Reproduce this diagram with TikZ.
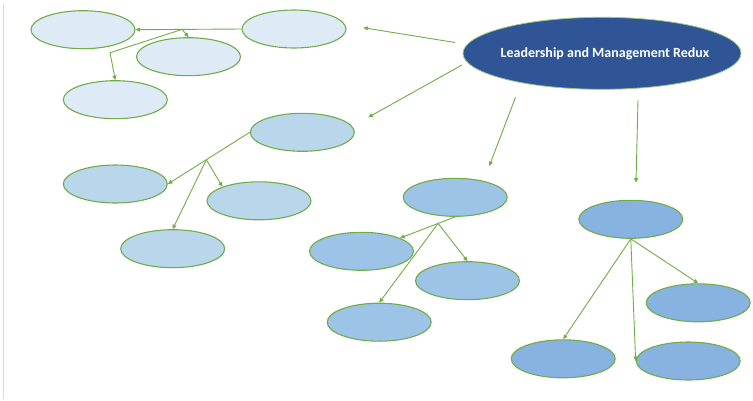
\documentclass[tikz,border=0pt]{standalone}
\usepackage{fontspec}
\setmainfont{Carlito}
\usetikzlibrary{shapes.geometric,arrows.meta,calc}
\definecolor{ogreen}{HTML}{70AD47}
\definecolor{fillA}{HTML}{DEEBF7}
\definecolor{fillB}{HTML}{BAD6EB}
\definecolor{fillC}{HTML}{9DC3E6}
\definecolor{fillD}{HTML}{88B2DF}
\definecolor{mainblue}{HTML}{2F5597}
\definecolor{edgegray}{HTML}{D9D9D9}
\tikzset{
  bubble/.style={ellipse, draw=ogreen, line width=1.1pt, minimum width=104pt, minimum height=38pt, inner sep=0pt},
  mainbubble/.style={ellipse, draw=ogreen!70!white, line width=0.8pt, fill=mainblue, minimum width=278pt, minimum height=72pt, inner sep=0pt, text=white, font=\fontsize{14}{16}\selectfont\bfseries},
  link/.style={draw=ogreen, line width=0.9pt, -{Triangle[length=4.5pt,width=4pt]}},
  plain/.style={draw=ogreen, line width=0.9pt}
}
\begin{document}
\begin{tikzpicture}[x=1pt,y=-1pt]
\useasboundingbox (0,0) rectangle (753,400);
\draw[edgegray, line width=0.8pt] (3.5,4) -- (3.5,399);

% main
\node[mainbubble] (main) at (602,53.3) {\makebox[0pt]{\hspace{6pt}Leadership and Management Redux}};

% group 1
\node[bubble, fill=fillA] (g1) at (294,29) {};
\node[bubble, fill=fillA] (g1a) at (83,29.7) {};
\node[bubble, fill=fillA] (g1b) at (188.5,56.7) {};
\node[bubble, fill=fillA] (g1c) at (115.3,99.7) {};

% group 2
\node[bubble, fill=fillB] (g2) at (302.3,132.3) {};
\node[bubble, fill=fillB] (g2a) at (115.3,184) {};
\node[bubble, fill=fillB] (g2b) at (259,200.8) {};
\node[bubble, fill=fillB] (g2c) at (172.7,248.7) {};

% group 3
\node[bubble, fill=fillC] (g3) at (455.2,197.3) {};
\node[bubble, fill=fillC] (g3a) at (361.5,251.3) {};
\node[bubble, fill=fillC] (g3b) at (467.5,280.7) {};
\node[bubble, fill=fillC] (g3c) at (379.2,322.2) {};

% group 4
\node[bubble, fill=fillD] (g4) at (630.8,219.3) {};
\node[bubble, fill=fillD] (g4a) at (698.2,302.8) {};
\node[bubble, fill=fillD] (g4b) at (563.2,358.8) {};
\node[bubble, fill=fillD] (g4c) at (688.2,361) {};

% free ends of main connectors
\coordinate (m1s) at (455,42.5);
\coordinate (m1e) at (363.3,27.7);
\coordinate (m2s) at (462,65);
\coordinate (m2e) at (368.3,117.3);
\coordinate (m3s) at (515.5,97.3);
\coordinate (m3e) at (489.3,166);
\coordinate (m4s) at (638,100);
\coordinate (m4e) at (636,182.7);

\draw[link] (m1s) -- (m1e);
\draw[link] (m2s) -- (m2e);
\draw[link] (m3s) -- (m3e);
\draw[link] (m4s) -- (m4e);

% group 1 connectors
\draw[link] (g1.west) -- (g1a.east);
\coordinate (b1) at ($(g1.west)!0.56!(g1a.east)$);
\coordinate (k1) at (110,52.7);
\draw[link] (b1) -- (g1b.north);
\draw[link] (b1) -- (k1) -- (g1c.north);

% group 2 connectors
\draw[link] (g2.west) -- (g2a.east);
\coordinate (b2) at ($(g2.west)!0.53!(g2a.east)$);
\draw[link] (b2) -- (g2b.159);
\draw[link] (b2) -- (g2c.north);

% group 3 connectors
\draw[link] (g3.south) -- (g3a.19);
\coordinate (b3) at ($(g3.south)!0.31!(g3a.19)$);
\draw[link] (b3) -- (g3b.north);
\draw[link] (b3) -- (g3c.north);

% group 4 connectors
\draw[link] (g4.south) -- (g4a.north);
\draw[link] (g4.south) -- (g4b.north);
\draw[link] (g4.south) -- (g4c.west);
\end{tikzpicture}
\end{document}
